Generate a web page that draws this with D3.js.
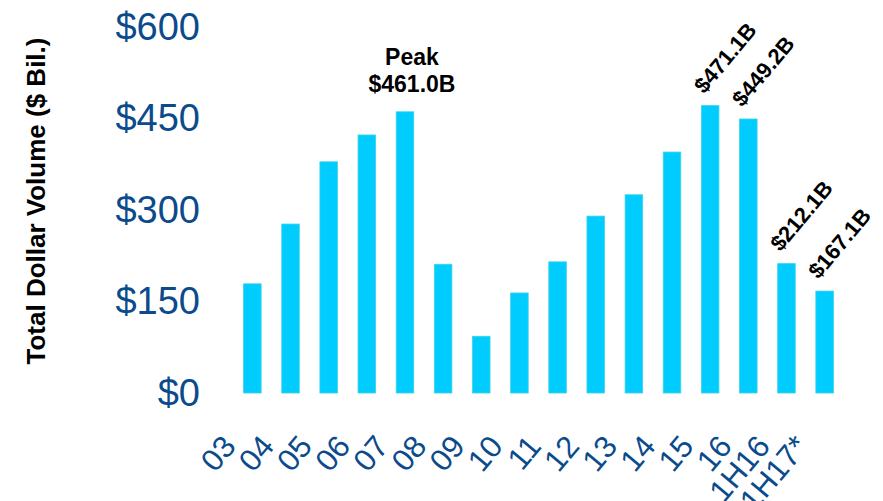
<!DOCTYPE html>
<html>
<head>
<meta charset="utf-8">
<script src="https://cdn.jsdelivr.net/npm/d3@7"></script>
<style>
  body { margin: 0; background: #fff; }
  svg { display: block; font-family: "Liberation Sans", Arial, sans-serif; }
</style>
</head>
<body>
<svg id="chart" width="883" height="501"></svg>
<script>
// values ($ billions)
var years = ["03", "04", "05", "06", "07", "08", "09", "10", "11", "12", "13", "14", "15", "16", "1H16", "1H17*"]
var volume = [179, 277, 379, 423, 461.0, 211, 93, 164, 215, 290, 325, 395, 471.1, 449.2, 212.1, 167.1]
var yTicks = [0, 150, 300, 450, 600]
var tagged = ["15", "16", "1H16", "1H17*"]
var tagText = ["$471.1B", "$449.2B", "$212.1B", "$167.1B"]

var navy = "#0b4b8c"
var barColor = "#00ccff"

var svg = d3.select("#chart")

var x = d3.scaleBand()
    .domain(years)
    .range([223, 854])
    .paddingInner(0.54)
    .paddingOuter(0.54)

var y = d3.scaleLinear()
    .domain([0, 600])
    .range([393, 27])

// y axis, labels only
var yAxis = svg.append("g")
    .attr("transform", "translate(200,0)")
    .call(d3.axisLeft(y).tickValues(yTicks).tickSize(0).tickPadding(0).tickFormat(d => "$" + d))
yAxis.select(".domain").remove()
yAxis.selectAll("text")
    .attr("fill", navy)
    .style("font-size", "38px")
    .style("font-family", "'Liberation Sans', Arial, sans-serif")

// x axis, rotated labels
var xAxis = svg.append("g")
    .attr("transform", "translate(0,447)")
    .call(d3.axisBottom(x).tickSize(0))
xAxis.select(".domain").remove()
xAxis.selectAll("text")
    .attr("y", 0)
    .attr("dy", 0)
    .attr("text-anchor", "end")
    .attr("transform", "translate(-15,0) rotate(-50)")
    .attr("fill", navy)
    .style("font-size", "31px")
    .style("font-family", "'Liberation Sans', Arial, sans-serif")

// bars
svg.append("g")
    .selectAll("rect")
    .data(years)
    .join("rect")
    .attr("x", d => x(d))
    .attr("width", x.bandwidth())
    .attr("y", (d, i) => y(volume[i]))
    .attr("height", (d, i) => y(0) - y(volume[i]))
    .attr("fill", barColor)
    .attr("stroke", "#3cd4e2")
    .attr("stroke-width", 0.8)

// peak note
var peakX = x("07") + x.bandwidth() / 2 + 7
svg.append("text")
    .attr("x", peakX).attr("y", 65)
    .attr("text-anchor", "middle")
    .style("font-weight", "bold").style("font-size", "23px")
    .text("Peak")
svg.append("text")
    .attr("x", peakX).attr("y", 92)
    .attr("text-anchor", "middle")
    .style("font-weight", "bold").style("font-size", "23px")
    .text("$" + volume[4].toFixed(1) + "B")

// rotated value tags
svg.append("g")
    .selectAll("text")
    .data(tagged)
    .join("text")
    .attr("transform", (d, i) => {
        var cx = x(d) + x.bandwidth() / 2 - 6
        var cy = y(volume[years.indexOf(d)]) - 11
        return "translate(" + cx + "," + cy + ") rotate(-50)"
    })
    .style("font-weight", "bold").style("font-size", "22px")
    .text((d, i) => tagText[i])

// axis title
svg.append("text")
    .attr("transform", "translate(45,201) rotate(-90)")
    .attr("text-anchor", "middle")
    .style("font-weight", "bold").style("font-size", "26px")
    .text("Total Dollar Volume ($ Bil.)")
</script>
</body>
</html>
